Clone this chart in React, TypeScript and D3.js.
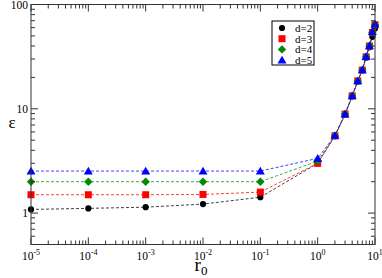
import * as d3 from 'd3';
import React from 'react';

// r0 values and epsilon for each d
const r0 = [1e-5, 1e-4, 1e-3, 1e-2, 1e-1, 1, 2, 3, 4, 5, 6, 7, 8, 9, 10];
const epsD2 = [1.085, 1.11, 1.14, 1.22, 1.42, 3.0, 5.5, 8.8, 13.2, 18.3, 23.5, 31, 39, 49, 59];
const epsD3 = [1.5, 1.5, 1.5, 1.51, 1.59, 3.0, 5.5, 8.9, 13.3, 18.5, 23.5, 31.5, 40, 54, 64];
const epsD4 = [2.0, 2.0, 2.0, 2.0, 2.0, 3.15, 5.5, 8.9, 13.3, 18.5, 23.5, 31.5, 40, 54, 64];
const epsD5 = [2.53, 2.53, 2.53, 2.53, 2.53, 3.35, 5.55, 8.9, 13.3, 18.5, 23.6, 31.6, 40.2, 55, 65];
const seriesNames = ['d=2', 'd=3', 'd=4', 'd=5'];
const seriesColors = ['#000000', '#ff0000', '#008b00', '#0000ff'];
const seriesSymbols = ['circle', 'square', 'diamond', 'triangle'];
const xMajor = [1e-5, 1e-4, 1e-3, 1e-2, 1e-1, 1, 10];
const xExp = ['-5', '-4', '-3', '-2', '-1', '0', '1'];
const yMajor = [1, 10, 100];
const yLabels = ['1', '10', '100'];

const W = 382;
const H = 278;
const m = { left: 31, right: 7, top: 4.5, bottom: 33.5 };
const serif = '"Liberation Serif", "DejaVu Serif", serif';

function Marker({ kind, x, y, color }: { kind: string; x: number; y: number; color: string }) {
  if (kind === 'circle') return <circle cx={x} cy={y} r={3.1} fill={color} />;
  if (kind === 'square') return <rect x={x - 3.5} y={y - 3.5} width={7} height={7} fill={color} />;
  if (kind === 'diamond')
    return <path d={`M${x},${y - 4.2}L${x + 4.2},${y}L${x},${y + 4.2}L${x - 4.2},${y}Z`} fill={color} />;
  return <path d={`M${x},${y - 4.3}L${x + 4.5},${y + 3.4}L${x - 4.5},${y + 3.4}Z`} fill={color} />;
}

export default function App() {
  const x = d3.scaleLog().domain([1e-5, 10]).range([m.left, W - m.right]);
  const y = d3.scaleLog().domain([0.5, 100]).range([H - m.bottom, m.top]);
  const series = [epsD2, epsD3, epsD4, epsD5];
  const line = d3.line<[number, number]>().x(d => x(d[0])).y(d => y(d[1]));

  // minor ticks
  const xMinor: number[] = [];
  for (let e = -5; e < 1; e++) for (let k = 2; k <= 9; k++) xMinor.push(k * Math.pow(10, e));
  const yMinor: number[] = [0.5, 0.6, 0.7, 0.8, 0.9];
  for (let e = 0; e < 2; e++) for (let k = 2; k <= 9; k++) yMinor.push(k * Math.pow(10, e));

  const x0 = m.left, x1 = W - m.right, y0 = H - m.bottom, y1 = m.top;
  const ticks: JSX.Element[] = [];
  const addX = (v: number, len: number, key: string) => {
    ticks.push(<line key={key + 'b'} x1={x(v)} x2={x(v)} y1={y0} y2={y0 - len} />);
    ticks.push(<line key={key + 't'} x1={x(v)} x2={x(v)} y1={y1} y2={y1 + len} />);
  };
  const addY = (v: number, len: number, key: string) => {
    ticks.push(<line key={key + 'l'} x1={x0} x2={x0 + len} y1={y(v)} y2={y(v)} />);
    ticks.push(<line key={key + 'r'} x1={x1} x2={x1 - len} y1={y(v)} y2={y(v)} />);
  };
  xMajor.forEach((v, i) => addX(v, 7, 'xM' + i));
  xMinor.forEach((v, i) => addX(v, 4, 'xm' + i));
  yMajor.forEach((v, i) => addY(v, 7, 'yM' + i));
  yMinor.forEach((v, i) => addY(v, 4, 'ym' + i));

  return (
    <svg width={W} height={H} style={{ position: 'absolute', left: 0, top: 0, background: '#fff' }} fontFamily={serif}>
      <rect width={W} height={H} fill="#fff" />
      {series.map((s, i) => (
        <path
          key={'l' + i}
          d={line(r0.map((r, j) => [r, s[j]]) as [number, number][]) || ''}
          fill="none"
          stroke={seriesColors[i]}
          strokeOpacity={0.75}
          strokeWidth={1}
          strokeDasharray="3,2"
        />
      ))}
      {series.map((s, i) => (
        <g key={'p' + i}>
          {r0.map((r, j) => (
            <Marker key={j} kind={seriesSymbols[i]} x={x(r)} y={y(s[j])} color={seriesColors[i]} />
          ))}
        </g>
      ))}
      <g stroke="#333" strokeWidth={1}>
        <rect x={x0} y={y1} width={x1 - x0} height={y0 - y1} fill="none" />
        {ticks}
      </g>
      {xMajor.map((v, i) => (
        <text key={'xl' + i} x={x(v)} y={y0 + 15.5} fontSize={11.5} textAnchor="middle">
          10<tspan dy={-5} fontSize={8}>{xExp[i]}</tspan>
        </text>
      ))}
      {yMajor.map((v, i) => (
        <text key={'yl' + i} x={x0 - 3} y={y(v) + 4} fontSize={11.5} textAnchor="end">
          {yLabels[i]}
        </text>
      ))}
      <text x={(x0 + x1) / 2 - 2} y={270.5} fontSize={19} textAnchor="middle">
        r<tspan dy={4.5} fontSize={13}>0</tspan>
      </text>
      <text x={12} y={128} fontSize={17} textAnchor="middle">ε</text>
      <g>
        <rect x={272} y={21} width={42} height={44} fill="#fff" stroke="#000" strokeWidth={1} />
        {seriesNames.map((n, i) => (
          <g key={'lg' + i}>
            <Marker kind={seriesSymbols[i]} x={282} y={28 + i * 10.7} color={seriesColors[i]} />
            <text x={295} y={28 + i * 10.7 + 4} fontSize={11}>{n}</text>
          </g>
        ))}
      </g>
    </svg>
  );
}
